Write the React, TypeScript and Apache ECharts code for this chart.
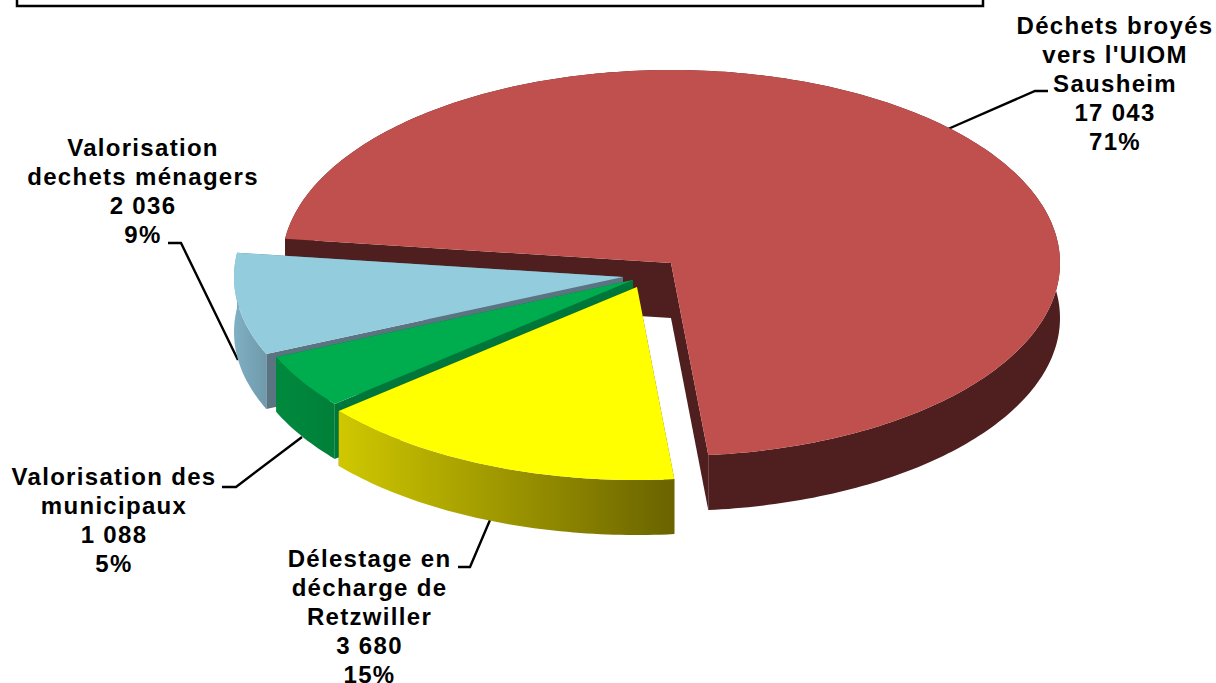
import React, { useEffect, useRef } from "react";
import * as echarts from "echarts";

// Data (drawn back to front, sweeping counter-clockwise)
const sliceNames = [
  "Déchets broyés\nvers l'UIOM\nSausheim",
  "Valorisation\ndechets ménagers",
  "Valorisation des\nmunicipaux",
  "Délestage en\ndécharge de\nRetzwiller",
];
const sliceValues = [17043, 2036, 1088, 3680];
const valueLabels = ["17 043", "2 036", "1 088", "3 680"];
const percentLabels = ["71%", "9%", "5%", "15%"];

// Styling and layout
const START_ANGLE = 84.5;
const RX = 389;
const RY = 193;
const DEPTH = 55;
const centres = [[671, 263], [623, 277], [633, 280], [637, 287]];
const topColors = ["#c0504d", "#93cddd", "#00ad4e", "#ffff00"];
const wallStops = [
  ["#4e1f1e", "#4e1f1e"],
  ["#7fb0c3", "#6f9aab"],
  ["#008a3e", "#007f39"],
  ["#cfc800", "#6a6300"],
];
const innerWalls = ["#4e1f1e", "#5b7482", "#00773a", "#6a6300"];
const labelPos = [[1115, 11], [143, 133], [114, 462.5], [369.5, 544]];
const leaders = [
  [[948, 129], [1035, 91], [1048, 91]],
  [[168, 243], [181, 243], [238, 360]],
  [[222, 487], [236, 487], [302, 437]],
  [[458, 567], [470, 567], [490, 520]],
];

const total = sliceValues.reduce((a, b) => a + b, 0);

function arcPoints(cx: number, cy: number, from: number, to: number, dy: number) {
  const pts: number[][] = [];
  const n = Math.max(2, Math.ceil(Math.abs(to - from)));
  for (let i = 0; i <= n; i++) {
    const t = ((from + ((to - from) * i) / n) * Math.PI) / 180;
    pts.push([cx + RX * Math.cos(t), cy + RY * Math.sin(t) + dy]);
  }
  return pts;
}

export default function App() {
  const ref = useRef<HTMLDivElement>(null);
  useEffect(() => {
    if (!ref.current) return;
    const chart = echarts.init(ref.current, undefined, { renderer: "svg" });
    const renderItem = (params: any, api: any) => {
      const i = params.dataIndex;
      const before = sliceValues.slice(0, i).reduce((a, b) => a + b, 0);
      const from = START_ANGLE - (before / total) * 360;
      const to = from - (api.value(0) / total) * 360;
      const [cx, cy] = centres[i];
      const top = arcPoints(cx, cy, from, to, 0);
      const bottom = arcPoints(cx, cy, from, to, DEPTH);
      const first = top[0];
      const last = top[top.length - 1];
      const wall = (p: number[][], fill: any) => ({
        type: "polygon",
        shape: { points: p },
        style: { fill, stroke: "none" },
      });
      return {
        type: "group",
        children: [
          wall(
            [[cx, cy], first, [first[0], first[1] + DEPTH], [cx, cy + DEPTH]],
            innerWalls[i]
          ),
          wall(
            [[cx, cy], last, [last[0], last[1] + DEPTH], [cx, cy + DEPTH]],
            innerWalls[i]
          ),
          wall(
            [...top, ...bottom.slice().reverse()],
            new echarts.graphic.LinearGradient(0, 0, 1, 0, [
              { offset: 0, color: wallStops[i][0] },
              { offset: 1, color: wallStops[i][1] },
            ])
          ),
          wall([[cx, cy], ...top], topColors[i]),
        ],
      };
    };
    chart.setOption({
      animation: false,
      backgroundColor: "#ffffff",
      series: [
        {
          type: "custom",
          coordinateSystem: "none",
          silent: true,
          clip: false,
          renderItem,
          data: sliceValues.map((v) => [v]),
          encode: { value: 0 },
        },
      ],
      graphic: [
        {
          type: "rect",
          shape: { x: 17, y: -10, width: 966, height: 16 },
          style: { fill: "#ffffff", stroke: "#000000", lineWidth: 2.5 },
        },
        ...leaders.map((points) => ({
          type: "polyline",
          shape: { points },
          style: { fill: "none", stroke: "#000000", lineWidth: 2.4 },
        })),
        ...sliceNames.map((name, i) => ({
          type: "text",
          x: labelPos[i][0],
          y: labelPos[i][1],
          style: {
            text: `${name}\n${valueLabels[i]}\n${percentLabels[i]}`,
            font: 'bold 24px "Liberation Sans", Arial, sans-serif',
            fill: "#000000",
            align: "center",
            lineHeight: 28.9,
          },
        })),
      ],
    });
    return () => chart.dispose();
  }, []);
  return (
    <div
      ref={ref}
      style={{
        position: "fixed",
        left: 0,
        top: 0,
        width: 1216,
        height: 683,
        letterSpacing: "1.3px",
      }}
    />
  );
}
